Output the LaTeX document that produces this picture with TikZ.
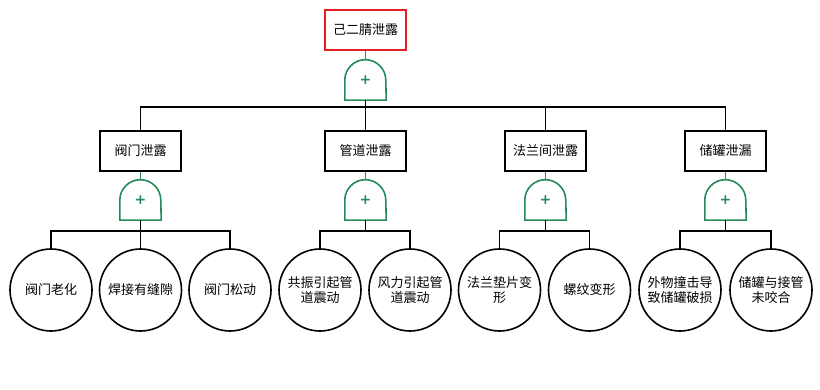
\documentclass[tikz,border=0pt]{standalone}
\usepackage{fontspec}
\newfontfamily\cjk{Noto Sans CJK SC}
\newfontfamily\plusfont{DejaVu Sans}
\usepackage{tikz}
\usetikzlibrary{calc}
\definecolor{gategreen}{RGB}{38,138,88}
\definecolor{topred}{RGB}{230,30,35}

\begin{document}
\begin{tikzpicture}[x=1pt, y=1pt,
	    every node/.style={font=\cjk\fontsize{13}{15}\selectfont},
	    event/.style={draw, line width=1.6pt, minimum width=81pt, minimum height=40pt, inner sep=0pt},
	    topevent/.style={event, draw=topred},
	    basic/.style={draw, circle, line width=1.6pt, minimum size=82pt, inner sep=0pt, align=center},
	    orgate/.style={minimum width=41pt, minimum height=40pt, inner sep=0pt, text=gategreen, font=\plusfont\bfseries\fontsize{14}{14}\selectfont},
	    gateline/.style={gategreen, line width=1.6pt},
	    link/.style={line width=1.7pt, black}
	  ]
	  \useasboundingbox (0,0) rectangle (820,-390);
	  % or gate outline drawn on a named gate node
	  \newcommand{\drawgate}[1]{%
	    \draw[gateline] (#1.south west) -- ++(0,20) arc[start angle=180, end angle=0, radius=20.5] -- (#1.south east) -- cycle;}

	  % top event
	  \node[topevent] (top) at (365.5,-30) {己二腈泄露};
	  \node[orgate] (g0) at (365.5,-80) {+};
	  \drawgate{g0}
	  \coordinate (j0) at (365.5,-107);

	  % intermediate events
	  \node[event] (m1) at (140.5,-151) {阀门泄露};
	  \node[event] (m2) at (365.5,-151) {管道泄露};
	  \node[event] (m3) at (545.5,-151) {法兰间泄露};
	  \node[event] (m4) at (725.5,-151) {储罐泄漏};
	  \foreach \m in {1,...,4} {
	    \node[orgate] (g\m) at ($(m\m)+(0,-49)$) {+};
	    \drawgate{g\m}
	    \draw[gateline] (m\m.south) -- (g\m.north);
	    \coordinate (j\m) at ($(g\m.south)+(0,-11)$);
	    \draw[link] (g\m.south) -- (j\m);
	  }

	  % basic events
	  \node[basic] (e1) at (51,-290) {阀门老化};
	  \node[basic] (e2) at (140.5,-290) {焊接有缝隙};
	  \node[basic] (e3) at (230,-290) {阀门松动};
	  \node[basic] (e4) at (320,-290) {共振引起管\\道震动};
	  \node[basic] (e5) at (410,-290) {风力引起管\\道震动};
	  \node[basic] (e6) at (499.5,-290) {法兰垫片变\\形};
	  \node[basic] (e7) at (589.5,-290) {螺纹变形};
	  \node[basic] (e8) at (680,-290) {外物撞击导\\致储罐破损};
	  \node[basic] (e9) at (771,-290) {储罐与接管\\未咬合};

	  % connectors
	  \draw[gateline] (top.south) -- (g0.north);
	  \draw[link] (g0.south) -- (j0);
	  \foreach \m in {1,...,4}
	    \draw[link] (m\m.north) |- (j0);
	  \foreach \e/\j in {1/1,2/1,3/1,4/2,5/2,6/3,7/3,8/4,9/4}
	    \draw[link] (e\e.north) |- (j\j);
	\end{tikzpicture}
\end{document}
